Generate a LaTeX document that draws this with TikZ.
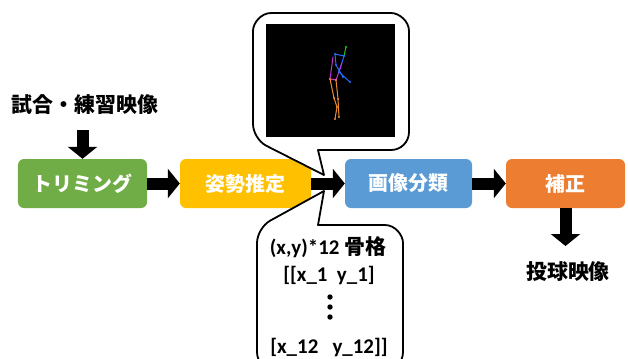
\documentclass[tikz,border=0pt]{standalone}
\usepackage{fontspec}
\newfontfamily\jp{Noto Sans CJK JP}
\newfontfamily\lat{Carlito}
\usetikzlibrary{arrows.meta}

\definecolor{stepgreen}{HTML}{70AD47}
\definecolor{stepyellow}{HTML}{FFC000}
\definecolor{stepblue}{HTML}{5B9BD5}
\definecolor{steporange}{HTML}{ED7D31}
\definecolor{bonegreen}{RGB}{20,200,20}
\definecolor{boneblue}{RGB}{30,110,255}
\definecolor{bonemagenta}{RGB}{200,50,220}
\definecolor{boneorange}{RGB}{235,140,50}

\tikzset{
  stage/.style={rounded corners=6bp, inner sep=0pt, minimum height=49bp,
    text=white, font=\jp\bfseries\fontsize{20}{24}\selectfont},
  flow/.style={line width=12bp, -{Triangle[width=29bp,length=12bp]}},
  callout/.style={fill=white, draw=black, line width=1.8bp, line join=round},
  caption/.style={inner sep=0pt, font=\jp\bfseries\fontsize{21}{25}\selectfont},
  coords/.style={inner sep=0pt, font=\lat\bfseries\fontsize{21}{25}\selectfont},
  bone/.style={line width=1bp, line cap=round, line join=round},
}

\begin{document}
\begin{tikzpicture}[x=1bp,y=-1bp]
\useasboundingbox (0,0) rectangle (628,358);
\clip (0,0) rectangle (628,358);

% processing stages
\node[stage, fill=stepgreen,  minimum width=129bp] (trim)     at (82.5,183.5)  {トリミング};
\node[stage, fill=stepyellow, minimum width=131bp] (pose)     at (245.5,183.5) {姿勢推定};
\node[stage, fill=stepblue,   minimum width=127bp] (classify) at (408.5,183.5) {画像分類};
\node[stage, fill=steporange, minimum width=119bp] (correct)  at (565.5,183.5) {補正};

% speech bubble above: pose estimation frame
\draw[callout] (324,175) -- (318,150) -- (391,150)
  .. controls (401,150) and (409,142) .. (409,132) -- (409,31)
  .. controls (409,21) and (399,13) .. (391,13) -- (271,13)
  .. controls (261,13) and (253,23) .. (253,31) -- (253,124)
  .. controls (253,132.3) and (259,142.1) .. (266.4,145.8) -- cycle;

\node[fill=black, inner sep=0pt, minimum width=129bp, minimum height=113bp] (frame) at (330.5,80.5) {};

% skeleton
\draw[bone, bonegreen] (346,47) -- (344,56);
\draw[bone, boneblue] (335,54) -- (344,56);
\draw[bone, boneblue] (335,54) -- (336,65) -- (343,77);
\draw[bone, boneblue] (344,56) -- (339,72) -- (350,82);
\draw[bone, bonemagenta] (333,57) -- (330,79);
\draw[bone, bonemagenta] (342,63) -- (336,80);
\draw[bone, bonemagenta] (330,79) -- (336,80);
\draw[bone, boneorange] (330,79) -- (334,98) -- (337,107) -- (335,119);
\draw[bone, boneorange] (336,80) -- (338,99) -- (339,117);
\foreach \p in {(335,54),(344,56),(336,65),(343,77),(339,72),(350,82)}
  \fill[boneblue] \p circle (1.2bp);
\foreach \p in {(330,79),(336,80),(334,98),(337,107),(335,119),(338,99),(339,117)}
  \fill[boneorange] \p circle (1.2bp);
\fill[bonegreen] (346,47) circle (1.2bp);

% speech bubble below: keypoint coordinates
\draw[callout] (324,191) -- (318,225) -- (385,225)
  .. controls (395,225) and (403,235) .. (403,243) -- (403,352)
  .. controls (403,362) and (395,370) .. (385,370) -- (275,370)
  .. controls (265,370) and (257,362) .. (257,352) -- (257,243)
  .. controls (257,234.75) and (262.9,224.7) .. (270.1,220.7) -- cycle;

\node[coords] (head) at (328,247) {{\lat (x,y)*12 }{\jp 骨格}};
\node[coords] (first) at (329,275) {[[x\_1\ \ y\_1]};
\node[coords] (last) at (329,347) {[x\_12\ \ \ y\_12]]};
\foreach \y in {297,307,317}
  \fill (330,\y) circle (2.7bp);

% input and output
\node[caption] (src) at (85,105) {試合・練習映像};
\coordinate (srcend) at (82.5,130);
\node[caption] (dst) at (568,272) {投球映像};
\coordinate (dstend) at (565.5,246);

% flow arrows
\draw[flow] (srcend) -- (trim);
\draw[flow] (trim) -- (pose);
\draw[flow] (pose) -- (classify);
\draw[flow] (classify) -- (correct);
\draw[flow] (correct) -- (dstend);
\end{tikzpicture}
\end{document}
